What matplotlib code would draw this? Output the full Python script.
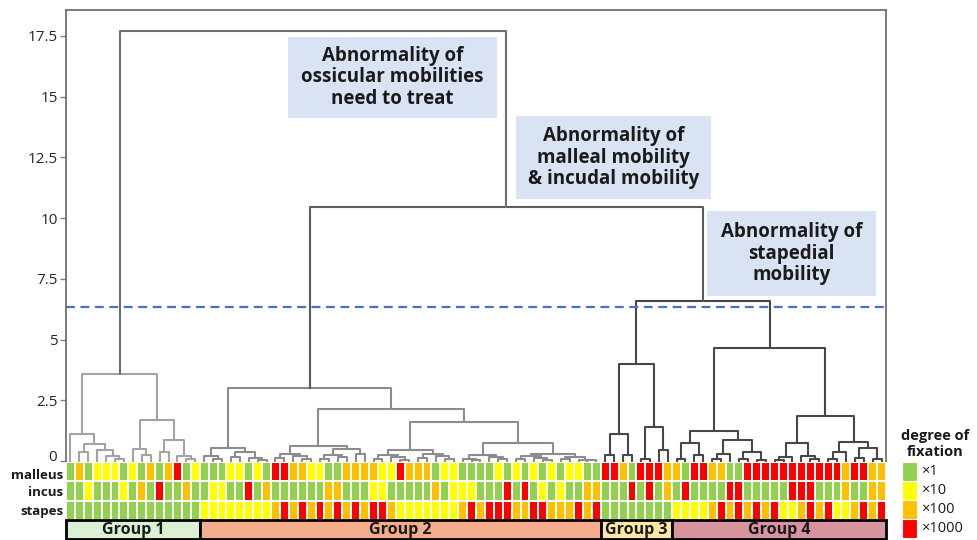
import numpy as np
import matplotlib
matplotlib.use('Agg')
import matplotlib.pyplot as plt
from matplotlib.colors import ListedColormap
from matplotlib.patches import Rectangle

plt.rcParams['font.family'] = ['Open Sans', 'Noto Sans CJK JP', 'DejaVu Sans']

W, H = 977, 540

# ------------------------------------------------------------------
# Data
# ------------------------------------------------------------------
# dendrogram subtrees: node = (height, left, right), leaf = 0
group1_tree = (3.6,
               (1.1, 0, (0.72, (0.35, 0, 0), (0.45, 0, (0.2, 0, (0.1, 0, 0))))),
               (1.7, (0.5, 0, (0.25, 0, 0)), (0.85, (0.35, 0, 0), (0.2, 0, (0.1, 0, 0)))))

group2_tree = (3.0,
               (0.55, (0.2, 0, (0.1, 0, 0)), (0.35, (0.15, 0, 0), (0.12, 0, (0.05, 0, 0)))),
               (2.15,
                (0.6, (0.3, (0.12, 0, 0), (0.2, 0, (0.08, 0, 0))),
                      (0.5, (0.25, (0.1, 0, 0), (0.15, 0, 0)), (0.3, 0, 0))),
                (1.6,
                 (0.45, (0.25, (0.1, 0, 0), (0.15, 0, (0.05, 0, 0))),
                        (0.3, (0.12, 0, 0), (0.2, 0, (0.08, 0, 0)))),
                 (0.75, (0.25, (0.1, 0, (0.05, 0, 0)), (0.15, 0, (0.07, 0, 0))),
                        (0.3, (0.2, (0.08, 0, 0), (0.12, 0, (0.05, 0, 0))),
                              (0.18, (0.1, 0, 0), (0.06, 0, (0.04, 0, 0))))))))

group3_tree = (4.0,
               (1.1, (0.25, 0, 0), (0.25, 0, 0)),
               (1.4, (0.08, 0, 0), (0.45, 0, 0)))

group4_tree = (4.65,
               (1.25, (0.74, (0.08, 0, 0), (0.25, 0, 0)),
                      (0.86, (0.3, (0.08, 0, 0), 0), (0.37, (0.1, 0, 0), (0.05, 0, 0)))),
               (1.85, (0.74, (0.15, (0.05, 0, 0), 0), (0.2, 0, (0.08, 0, 0))),
                      (0.78, (0.37, (0.1, 0, 0), 0), (0.53, (0.12, 0, 0), (0.1, 0, 0)))))

# heights where groups are merged: (3+4), (2+34), (1+234)
merge_heights = [6.6, 10.45, 17.7]
cut_height = 6.35

group_names = ['Group 1', 'Group 2', 'Group 3', 'Group 4']
group_sizes = [15, 45, 8, 24]

row_names = ['malleus', 'incus', 'stapes']
# G = x1, Y = x10, O = x100, R = x1000
malleus = ['GOGYYYGYGOGORGY',
           'GGGYYGYGRROOYYGGOOOOYYROOOGYYGGGGYGYGYGYGYYGG',
           'RROGRRRO',
           'OGRROOGGRRRRRRRRRRRORROO']
incus = ['GGYGGGYGOGRGGOG',
         'GYYGGRGOGGGGGGOOGGGYYGGGGGOGYYYGGGRGRGYGYGGOO',
         'GGGRGRGO',
         'GRGGGGRRGGGGGRRRGGGOGGOO']
stapes = ['GGGGGGGGGGGGGGG',
          'YYYYYYYYORORORORORORROYYYYYYYORORRROORROOOROR',
          'GGGGGGGG',
          'YYYYORORORORYYORORYYOROR']

fix_codes = ['G', 'Y', 'O', 'R']
fix_labels = ['×1', '×10', '×100', '×1000']
fix_colors = ['#92d050', '#ffff00', '#ffc000', '#ff0000']

group_fill = ['#dcf1d4', '#f4ac8c', '#fde7a6', '#d6949f']
group_line = ['#a3a3a3', '#8c8c8c', '#474747', '#474747']
top_line = ['#474747', '#5c5c5c', '#6e6e6e']

notes = ['Abnormality of\nossicular mobilities\nneed to treat',
         'Abnormality of\nmalleal mobility\n& incudal mobility',
         'Abnormality of\nstapedial\nmobility']
note_boxes = [(288, 37, 497, 118), (516, 116, 711, 199), (707, 211, 876, 296)]

# ------------------------------------------------------------------
# Figure
# ------------------------------------------------------------------
fig = plt.figure(figsize=(W / 100, H / 100), dpi=100)


def px_axes(l, t, r, b):
    return fig.add_axes([l / W, 1 - b / H, (r - l) / W, (b - t) / H])


n_leaves = sum(group_sizes)
LW = 1.5

# --- dendrogram
ax = px_axes(66, 10, 886, 461)


def draw(node, color, pos):
    if not isinstance(node, tuple):
        x = pos[0]
        pos[0] += 1
        return x, 0.0
    h, left, right = node
    xl, hl = draw(left, color, pos)
    xr, hr = draw(right, color, pos)
    ax.plot([xl, xl, xr, xr], [hl, h, h, hr], color=color, lw=LW, clip_on=False)
    return (xl + xr) / 2, h


pos = [0]
tops = []
for tree, c in zip([group1_tree, group2_tree, group3_tree, group4_tree], group_line):
    tops.append(draw(tree, c, pos))


def link(a, b, h, color):
    ax.plot([a[0], a[0], b[0], b[0]], [a[1], h, h, b[1]], color=color, lw=LW)
    return (a[0] + b[0]) / 2, h


n34 = link(tops[2], tops[3], merge_heights[0], top_line[0])
n234 = link(tops[1], n34, merge_heights[1], top_line[1])
link(tops[0], n234, merge_heights[2], top_line[2])

ax.axhline(cut_height, color='#4472c4', ls=(0, (4, 2.5)), lw=1.6)

ax.set_xlim(-0.5, n_leaves - 0.5)
ax.set_ylim(0, 18.56)
yt = [0, 2.5, 5, 7.5, 10, 12.5, 15, 17.5]
ax.set_yticks(yt)
# the "0" label sits just above the heatmap, drawn separately a bit higher
ax.set_yticklabels(['' if v == 0 else f'{v:g}' for v in yt], fontsize=11, color='#262626')
ax.annotate('0', xy=(0, 0), xycoords=('axes fraction', 'data'), xytext=(-6.5, 2.5),
            textcoords='offset points', ha='right', va='center', fontsize=11,
            color='#262626')
ax.set_xticks([])
ax.tick_params(axis='y', length=4, width=1, color='#7f7f7f', pad=2)
ax.spines['bottom'].set_visible(False)
for s in ['left', 'top', 'right']:
    ax.spines[s].set_color('#666666')
    ax.spines[s].set_linewidth(1.2)

# --- heatmap
hm = px_axes(66, 462, 886, 520)
rows = [''.join(malleus), ''.join(incus), ''.join(stapes)]
mat = np.array([[fix_codes.index(ch) for ch in r] for r in rows])
cmap = ListedColormap(fix_colors)
hm.pcolormesh(np.arange(n_leaves + 1) - 0.5, np.arange(4), mat, cmap=cmap,
              vmin=-0.5, vmax=3.5, edgecolors='white', linewidth=1.4)
hm.set_xlim(-0.5, n_leaves - 0.5)
hm.set_ylim(3, 0)
hm.set_xticks([])
hm.set_yticks([0.6, 1.5, 2.5])
hm.set_yticklabels(row_names, fontsize=9.5, fontweight='bold', color='#1a1a1a')
hm.tick_params(axis='y', length=0, pad=2)
for s in hm.spines.values():
    s.set_visible(False)

# --- group bar
gb = px_axes(66, 520, 886, 539)
starts = np.cumsum([0] + group_sizes[:-1]) - 0.5
gb.bar(starts, 1, width=group_sizes, align='edge', color=group_fill,
       edgecolor='black', linewidth=2, clip_on=False)
for s0, n, name in zip(starts, group_sizes, group_names):
    gb.text(s0 + n / 2, 0.45, name, ha='center', va='center',
            fontsize=11.5, fontweight='bold', color='#1a1a1a')
gb.set_xlim(-0.5, n_leaves - 0.5)
gb.set_ylim(0, 1)
gb.axis('off')

# --- legend
lg = px_axes(902, 462, 917, 538)
lg.bar([0] * 4, [1] * 4, bottom=[3, 2, 1, 0], width=1, align='edge',
       color=fix_colors, edgecolor='white', linewidth=0.8)
for i, lab in enumerate(fix_labels):
    lg.text(1.25, 3.5 - i, lab, ha='left', va='center', fontsize=10.5, color='#1a1a1a')
lg.set_xlim(0, 1)
lg.set_ylim(0, 4)
lg.axis('off')
fig.text(935 / W, 1 - 444 / H, 'degree of\nfixation', ha='center', va='center',
         fontsize=10.5, fontweight='bold', linespacing=1.15, color='#1a1a1a')

# --- annotation boxes
for (l, t, r, b), txt in zip(note_boxes, notes):
    fig.add_artist(Rectangle((l / W, 1 - b / H), (r - l) / W, (b - t) / H,
                             transform=fig.transFigure, facecolor='#dae3f3',
                             edgecolor='none', zorder=3))
    fig.text((l + r) / 2 / W, 1 - (t + b) / 2 / H, txt, ha='center', va='center',
             fontsize=13.5, fontweight='bold', linespacing=1.12, color='#1a1a1a',
             zorder=4)

fig.savefig('out.png', dpi=100)
